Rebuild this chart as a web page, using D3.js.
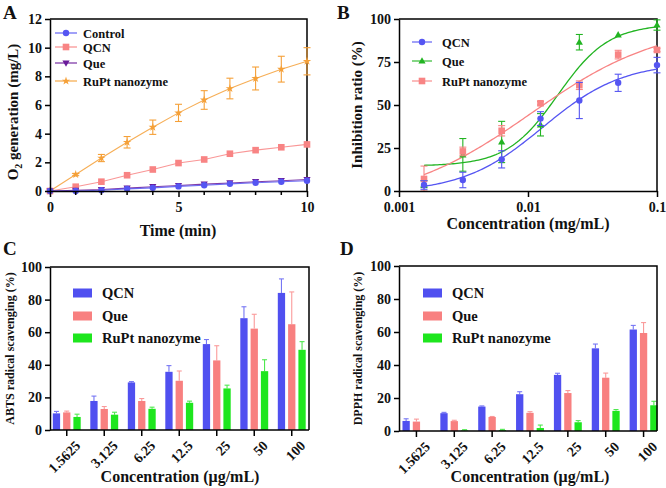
<!DOCTYPE html>
<html><head><meta charset="utf-8">
<script src="https://cdn.jsdelivr.net/npm/d3@7"></script>
<style>
body{margin:0;background:#fff;}
</style></head><body>
<svg id="c" width="666" height="488"></svg>
<script>
// ---------- Panel A data ----------
const timeA = [0,1,2,3,4,5,6,7,8,9,10];
const controlA = [0,0,0.05,0.15,0.22,0.32,0.4,0.5,0.58,0.65,0.72];
const qcnA = [0,0.3,0.65,1.1,1.5,1.95,2.2,2.6,2.85,3.05,3.25];
const queA = [0,0.05,0.1,0.2,0.3,0.38,0.48,0.56,0.65,0.72,0.8];
const rupA = [0,1.15,2.3,3.4,4.45,5.45,6.35,7.15,7.85,8.5,9.05];
const rupAErr = [0,0.08,0.25,0.4,0.5,0.6,0.65,0.72,0.8,0.9,0.95];
const ticksAx = [0,5,10];
const ticksAy = [0,2,4,6,8,10,12];

// ---------- Panel B data ----------
const concB = [0.0015625,0.003125,0.00625,0.0125,0.025,0.05,0.1];
const qcnB = [3.5,6.4,18.4,42.1,52.6,62.9,73.2];
const qcnBErr = [2.5,4.5,5,4,10.5,5,4.5];
const queB = [4,21,28.5,38.5,86.5,90.8,96.5];
const queBErr = [2,9.5,12,6.5,4.5,0,3];
const rupB = [7,23,35,51,61.5,79.3,82];
const rupBErr = [7.5,2.5,3,1,2.5,2.5,1];
// fitted 4PL curve parameters [bottom, top, EC50, hill]
const qcnFit = [-1,75,0.013,1.4];
const queFit = [14.5,97,0.017,2.2];
const rupFit = [-8,98,0.0105,0.85];
const ticksBx = [0.001,0.01,0.1];
const ticksBxLabels = ["0.001","0.01","0.1"];
const ticksBy = [0,25,50,75,100];

// ---------- Panel C / D data ----------
const concCD = ["1.5625","3.125","6.25","12.5","25","50","100"];
const seriesCD = ["QCN","Que","RuPt nanozyme"];
const qcnC = [10.2,17.8,29.2,35.7,52.7,68.6,84.1];
const qcnCErr = [1.2,3,0.5,3.8,2.8,7,8.6];
const queC = [10.8,12.9,17.8,30.2,42.7,62.2,64.9];
const queCErr = [0.8,1.5,1.5,6,9,8.8,19.8];
const rupC = [8,9.4,13,16.7,25.5,36.1,49.2];
const rupCErr = [1.7,1.5,1,1,2,7,5];
const qcnD = [6.1,10.8,14.8,22.3,34,50.1,61.5];
const qcnDErr = [1.3,0.5,0.4,1.5,1,2.6,2.5];
const queD = [5.7,6,8.5,11,23,32.3,59.4];
const queDErr = [1.5,0.5,0.3,0.7,1.5,2.8,6.3];
const rupD = [0,0.3,0.5,1.8,5.3,12.2,15.6];
const rupDErr = [0,0.5,0.5,1.8,1,0.8,2.4];
const ticksCDy = [0,20,40,60,80,100];

const FONT = '"Liberation Serif"';
const svg = d3.select("#c");
const BLUE="#5555f2", PINK="#f88484", PURPLE="#6a1b9a", ORANGE="#f5a038", GREEN="#22b422";
const BARBLUE="#5050f0", BARPINK="#f88080", BARGREEN="#1ee61e";

function txt(g){return g.append("text").style("font-family",FONT).style("font-weight","bold").attr("fill","#111");}
function panelLabel(t,x,y){txt(svg).attr("x",x).attr("y",y).attr("font-size",19).text(t);}

function box(g,x0,x1,y0,y1){
  g.append("path").attr("d",`M${x0},${y1}H${x1}V${y0}`).attr("fill","none").attr("stroke","#000").attr("stroke-width",1.5);
}
function styleAxis(sel,fs){
  sel.attr("font-family",null).attr("font-size",null);
  sel.selectAll("path").attr("stroke","#000").attr("stroke-width",1.5);
  sel.selectAll("line").attr("stroke","#000").attr("stroke-width",1.5);
  sel.selectAll("text").attr("font-size",fs).attr("fill","#111")
     .style("font-family",FONT).style("font-weight","bold");
}
function marker(g,type,x,y,color){
  if(type==="circle") g.append("circle").attr("cx",x).attr("cy",y).attr("r",3.2).attr("fill",color);
  else if(type==="square") g.append("rect").attr("x",x-3.3).attr("y",y-3.3).attr("width",6.6).attr("height",6.6).attr("fill",color);
  else if(type==="tri") g.append("path").attr("d",`M${x},${y-3.8}L${x+3.6},${y+2.6}L${x-3.6},${y+2.6}Z`).attr("fill",color);
  else if(type==="itri") g.append("path").attr("d",`M${x},${y+3.8}L${x+3.6},${y-2.6}L${x-3.6},${y-2.6}Z`).attr("fill",color);
  else if(type==="star") g.append("path").attr("d",d3.symbol(d3.symbolStar,22)()).attr("transform",`translate(${x},${y})`).attr("fill",color);
}
function errBar(g,x,y1,y2,color,cap){
  g.append("line").attr("x1",x).attr("x2",x).attr("y1",y1).attr("y2",y2).attr("stroke",color).attr("stroke-width",1.1);
  g.append("line").attr("x1",x-cap).attr("x2",x+cap).attr("y1",y2).attr("y2",y2).attr("stroke",color).attr("stroke-width",1.1);
}

// ================= Panel A =================
(function(){
  const g = svg.append("g");
  const x = d3.scaleLinear().domain([0,10]).range([50,307]);
  const y = d3.scaleLinear().domain([0,12]).range([191,19]);
  box(g,50,307,191,19);
  const series = [
    {v:controlA,c:BLUE,m:"circle",err:null},
    {v:qcnA,c:PINK,m:"square",err:null},
    {v:queA,c:PURPLE,m:"itri",err:null},
    {v:rupA,c:ORANGE,m:"star",err:rupAErr}
  ];
  const line = d3.line().x((d,i)=>x(timeA[i])).y(d=>y(d));
  [series[3],series[1],series[2],series[0]].forEach(s=>{
    g.append("path").attr("d",line(s.v)).attr("fill","none").attr("stroke",s.c).attr("stroke-width",1.1).attr("opacity",0.85);
    if(s.err) s.v.forEach((d,i)=>{ if(s.err[i]>0.05){
      errBar(g,x(timeA[i]),y(d),y(d+s.err[i]),s.c,3.5);
      errBar(g,x(timeA[i]),y(d),y(d-s.err[i]),s.c,3.5);
    }});
    s.v.forEach((d,i)=>marker(g,s.m,x(timeA[i]),y(d),s.c));
  });
  const xa = g.append("g").attr("transform","translate(0,191)")
    .call(d3.axisBottom(x).tickValues(ticksAx).tickSize(6).tickSizeOuter(0).tickPadding(5));
  styleAxis(xa,14);
  g.append("g").attr("transform","translate(0,191)").selectAll("line").data(timeA.filter(t=>!ticksAx.includes(t)))
    .join("line").attr("x1",d=>x(d)).attr("x2",d=>x(d)).attr("y1",0).attr("y2",4).attr("stroke","#000").attr("stroke-width",1.5);
  const ya = g.append("g").attr("transform","translate(50,0)")
    .call(d3.axisLeft(y).tickValues(ticksAy).tickSize(5).tickSizeOuter(0).tickPadding(3));
  styleAxis(ya,14);
  txt(g).attr("x",178).attr("y",236).attr("text-anchor","middle").attr("font-size",16).text("Time (min)");
  const yt = txt(g).attr("transform","translate(18,112) rotate(-90)").attr("text-anchor","middle").attr("font-size",15);
  yt.append("tspan").text("O");
  yt.append("tspan").attr("font-size",10).attr("dy",4).text("2");
  yt.append("tspan").attr("dy",-4).text(" generation (mg/L)");
  const leg = [["Control",BLUE,"circle"],["QCN",PINK,"square"],["Que",PURPLE,"itri"],["RuPt nanozyme",ORANGE,"star"]];
  const ly = [33,47,63,81];
  leg.forEach((l,i)=>{
    g.append("line").attr("x1",55).attr("x2",77).attr("y1",ly[i]).attr("y2",ly[i]).attr("stroke",l[1]).attr("stroke-width",1.1);
    marker(g,l[2],66,ly[i],l[1]);
    txt(g).attr("x",83).attr("y",ly[i]+4.5).attr("font-size",12.5).text(l[0]);
  });
  panelLabel("A",3,19);
})();

// ================= Panel B =================
(function(){
  const g = svg.append("g");
  const x = d3.scaleLog().domain([0.001,0.1]).range([399,657]);
  const y = d3.scaleLinear().domain([0,100]).range([191,19]);
  box(g,399,657,191,19);
  const fit = (p,c)=> p[0]+(p[1]-p[0])/(1+Math.pow(p[2]/c,p[3]));
  const lo = Math.log10(concB[0]), hi = Math.log10(concB[concB.length-1]);
  const curveX = d3.range(0,121).map(i=>Math.pow(10,lo+i*(hi-lo)/120));
  const series = [
    {v:queB,e:queBErr,c:GREEN,m:"tri",f:queFit},
    {v:rupB,e:rupBErr,c:PINK,m:"square",f:rupFit},
    {v:qcnB,e:qcnBErr,c:BLUE,m:"circle",f:qcnFit}
  ];
  series.forEach(s=>{
    g.append("path").attr("d",d3.line().x(c=>x(c)).y(c=>y(fit(s.f,c)))(curveX))
     .attr("fill","none").attr("stroke",s.c).attr("stroke-width",1.3);
  });
  series.forEach(s=>{
    s.v.forEach((d,i)=>{ if(s.e[i]>0){
      errBar(g,x(concB[i]),y(d),y(Math.min(d+s.e[i],100)),s.c,3.5);
      errBar(g,x(concB[i]),y(d),y(Math.max(d-s.e[i],0)),s.c,3.5);
    }});
    s.v.forEach((d,i)=>marker(g,s.m,x(concB[i]),y(d),s.c));
  });
  const xa = g.append("g").attr("transform","translate(0,191)")
    .call(d3.axisBottom(x).tickValues(ticksBx).tickFormat((d,i)=>ticksBxLabels[i]).tickSize(6).tickSizeOuter(0).tickPadding(5));
  styleAxis(xa,14);
  const ya = g.append("g").attr("transform","translate(399,0)")
    .call(d3.axisLeft(y).tickValues(ticksBy).tickSize(5).tickSizeOuter(0).tickPadding(3));
  styleAxis(ya,14);
  txt(g).attr("x",528).attr("y",229).attr("text-anchor","middle").attr("font-size",16).text("Concentration (mg/mL)");
  txt(g).attr("transform","translate(362,105) rotate(-90)").attr("text-anchor","middle").attr("font-size",15).text("Inhibition ratio (%)");
  const leg = [["QCN",BLUE,"circle"],["Que",GREEN,"tri"],["RuPt nanozyme",PINK,"square"]];
  const ly = [42,61,81];
  leg.forEach((l,i)=>{
    g.append("line").attr("x1",412).attr("x2",432).attr("y1",ly[i]).attr("y2",ly[i]).attr("stroke",l[1]).attr("stroke-width",1.1);
    marker(g,l[2],422,ly[i],l[1]);
    txt(g).attr("x",442).attr("y",ly[i]+4.5).attr("font-size",12.5).text(l[0]);
  });
  panelLabel("B",337,19);
})();

// ================= Panels C & D =================
function barPanel(opt){
  const g = svg.append("g");
  const x = d3.scaleBand().domain(concCD).range(opt.bandRange).padding(0);
  const y = d3.scaleLinear().domain([0,100]).range([opt.y0,opt.y1]);
  const colors=[BARBLUE,BARPINK,BARGREEN];
  const errColors=["#7777f4","#fa9a9a","#4ee84e"];
  const offs=[-10.3,0,10.3], bw=7.3;
  opt.data.forEach((vals,si)=>{
    vals.forEach((v,i)=>{
      const cx = x(concCD[i])+x.bandwidth()/2+offs[si];
      if(opt.errs[si][i]>0) errBar(g,cx,y(v),y(v+opt.errs[si][i]),errColors[si],2.5);
      if(v>0) g.append("rect").attr("x",cx-bw/2).attr("y",y(v)).attr("width",bw).attr("height",y(0)-y(v)).attr("fill",colors[si]);
    });
  });
  box(g,opt.ax,opt.right,opt.y0,opt.y1);
  const xa = g.append("g").attr("transform",`translate(0,${opt.y0})`)
    .call(d3.axisBottom(x).tickSize(6).tickSizeOuter(0).tickPadding(4));
  xa.select(".domain").attr("d",`M${opt.ax},0H${opt.right}`);
  styleAxis(xa,14);
  xa.selectAll("text").attr("text-anchor","end").attr("transform","translate(4,6) rotate(-45)").attr("dy","0.35em");
  const ya = g.append("g").attr("transform",`translate(${opt.ax},0)`)
    .call(d3.axisLeft(y).tickValues(ticksCDy).tickSize(5).tickSizeOuter(0).tickPadding(3));
  styleAxis(ya,14);
  txt(g).attr("x",opt.titleX).attr("y",482).attr("text-anchor","middle").attr("font-size",16).text("Concentration (μg/mL)");
  txt(g).attr("transform",`translate(${opt.ytX},${(opt.y0+opt.y1)/2}) rotate(-90)`).attr("text-anchor","middle").attr("font-size",12).text(opt.ytitle);
  const ly=[293,316,338];
  seriesCD.forEach((s,i)=>{
    g.append("rect").attr("x",opt.legX).attr("y",ly[i]-4.5).attr("width",19).attr("height",9).attr("fill",colors[i]);
    txt(g).attr("x",opt.legX+29).attr("y",ly[i]+5).attr("font-size",14.5).text(s);
  });
}
barPanel({bandRange:[48,310.5],ax:50,right:309,y0:430,y1:267,data:[qcnC,queC,rupC],errs:[qcnCErr,queCErr,rupCErr],
  titleX:180,ytX:14,ytitle:"ABTS radical scavenging (%)",legX:73});
barPanel({bandRange:[397.5,662.5],ax:399,right:657,y0:431,y1:266,data:[qcnD,queD,rupD],errs:[qcnDErr,queDErr,rupDErr],
  titleX:530,ytX:362,ytitle:"DPPH radical scavenging (%)",legX:423});
panelLabel("C",3,255);
panelLabel("D",340,255);
</script></body></html>
